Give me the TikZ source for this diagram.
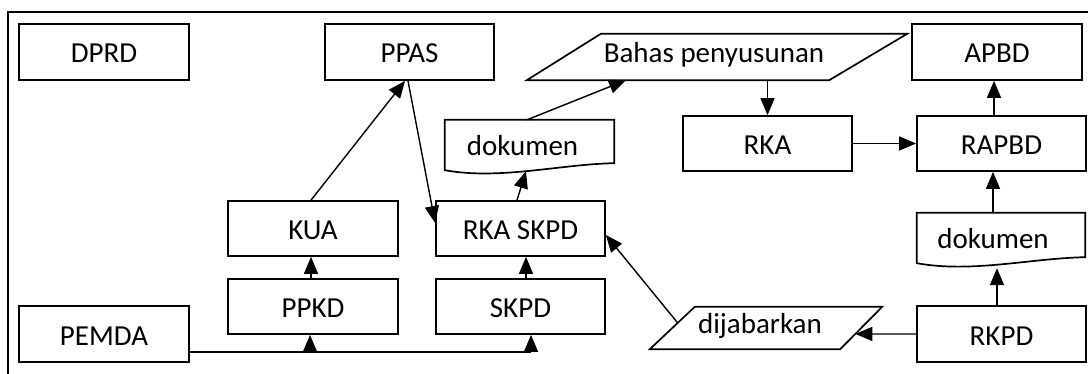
\documentclass[tikz,border=0pt]{standalone}
\usepackage{fontspec}
\setmainfont{Carlito}
\usetikzlibrary{arrows.meta,calc}
\begin{document}
\begin{tikzpicture}[x=1pt,y=-1pt,
  txt/.style={inner sep=0pt, text height=22pt, text depth=0pt, font=\fontsize{29}{33}\selectfont},
  boxn/.style={txt, draw, line width=1.7pt, minimum width=170pt, minimum height=55pt},
  docn/.style={txt, minimum width=169pt, minimum height=50pt},
  paran/.style={txt, text height=12pt},
  shp/.style={draw, line width=1.7pt, fill=white},
  arr/.style={line width=1.4pt, -{Triangle[length=17pt,width=14pt]}}
]
\useasboundingbox (0,0) rectangle (1088,374);
\fill[white] (0,0) rectangle (1088,374);
\draw[line width=2.4pt] (8,374) -- (8,12) -- (1088,12);

% boxes
\node[boxn, minimum height=56pt] (dprd)  at (104,52)    {DPRD};
\node[boxn, minimum width=169pt, minimum height=56pt] (ppas) at (409.5,52) {PPAS};
\node[boxn, minimum height=56pt] (apbd)  at (997,52)    {APBD};
\node[boxn, minimum width=169pt] (rka)   at (767.5,143.5) {RKA};
\node[boxn, minimum width=169pt] (rapbd) at (1001.5,143.5) {RAPBD};
\node[boxn] (kua)   at (313,228.5)  {KUA};
\node[boxn] (ppkd)  at (313,306.5)  {PPKD};
\node[boxn, minimum width=169pt] (rkaskpd) at (520.5,228.5) {RKA SKPD};
\node[boxn, minimum width=169pt] (skpd)    at (520.5,306.5) {SKPD};
\node[boxn, minimum height=56pt] (pemda) at (104,334)   {PEMDA};
\node[boxn, minimum width=169pt, minimum height=56pt] (rkpd) at (1001.5,334) {RKPD};

% document shapes
\node[docn] (dok1) at (529.5,145) {};
\draw[shp] (dok1.north west) -- (dok1.north east) -- ([yshift=7pt]dok1.south east)
  .. controls ([xshift=-54pt,yshift=6pt]dok1.south east) and ([xshift=55pt,yshift=-10pt]dok1.south west) .. (dok1.south west) -- cycle;
\node[docn] at (dok1) {\hspace*{-14pt}dokumen};

\node[docn, minimum width=168pt] (dok2) at (1001,238) {};
\draw[shp] (dok2.north west) -- (dok2.north east) -- ([yshift=6pt]dok2.south east)
  .. controls ([xshift=-54pt,yshift=5pt]dok2.south east) and ([xshift=55pt,yshift=-10pt]dok2.south west) .. (dok2.south west) -- cycle;
\node[docn, minimum width=168pt] at (dok2) {\hspace*{-16pt}dokumen};

% parallelograms
\node[paran, minimum width=380pt, minimum height=46pt] (bahas) at (717,57) {};
\coordinate (bahasNW) at ([xshift=74pt]bahas.north west);
\coordinate (bahasSE) at ([xshift=-78pt]bahas.south east);
\draw[shp] (bahas.south west) -- (bahasNW) -- (bahas.north east) -- (bahasSE) -- cycle;
\node[paran] at (bahas) {\hspace*{-6pt}Bahas penyusunan};

\node[paran, minimum width=232pt, minimum height=42pt] (dij) at (766,328) {};
\coordinate (dijNW) at ([xshift=45pt]dij.north west);
\coordinate (dijSE) at ([xshift=-42pt]dij.south east);
\draw[shp] (dij.south west) -- (dijNW) -- (dij.north east) -- (dijSE) -- cycle;
\node[paran] at (dij) {\hspace*{-12pt}dijabarkan};

% connectors
\draw[arr] ([xshift=-2pt]kua.north) -- ([xshift=-4.5pt]ppas.south);
\draw[arr] ([xshift=-1.5pt]ppas.south) -- ([yshift=5.5pt]rkaskpd.west);
\draw[arr] ([xshift=-2pt]ppkd.north) -- ([xshift=-2pt]kua.south);
\draw[arr] ([xshift=5.5pt]skpd.north) -- ([xshift=5.5pt]rkaskpd.south);
\draw[arr] ([xshift=-3.5pt]rkaskpd.north) -- ([xshift=-3.5pt,yshift=-1pt]dok1.south);
\draw[arr] ([xshift=-2.5pt]dok1.north) -- ([xshift=-91pt]bahas.south);
\draw[arr] (rka.north |- bahas.south) -- (rka.north);
\draw[arr] (rka.east) -- (rapbd.west);
\draw[arr] ([xshift=-7.5pt]rapbd.north) -- ([xshift=-7.5pt]rapbd.north |- apbd.south);
\draw[arr] ([xshift=-8pt]dok2.north) -- ([xshift=-8pt]dok2.north |- rapbd.south);
\draw[arr] ([xshift=-4.5pt]rkpd.north) -- ([xshift=-4pt,yshift=-5pt]dok2.south);
\draw[arr] (rkpd.west) -- ($(dij.north east)!0.64!(dijSE)$);
\draw[arr] ($(dijNW)!0.38!(dij.south west)$) -- ([yshift=-6.5pt]rkaskpd.east);

\coordinate (pl) at ([yshift=-18pt]pemda.east);
\coordinate (skin) at ([xshift=10.5pt]skpd.south);
\coordinate (ppin) at ([xshift=-3pt]ppkd.south);
\draw[line width=1.4pt] (pl) -- (pl -| skin);
\draw[arr] (pl -| skin) -- (skin);
\draw[arr] (pl -| ppin) -- (ppin);
\end{tikzpicture}
\end{document}
